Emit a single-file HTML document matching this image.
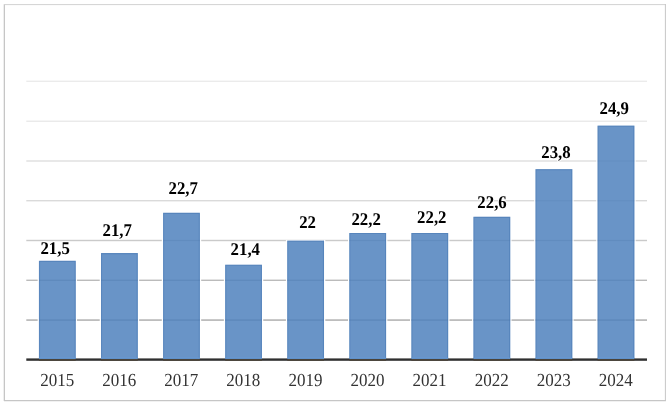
<!DOCTYPE html>
<html lang="ru"><head><meta charset="utf-8"><title>Chart</title>
<style>html,body{margin:0;padding:0;background:#fff;}svg{display:block;will-change:transform;}text{font-family:"Liberation Serif",serif;text-rendering:geometricPrecision;}</style></head><body>
<svg width="670" height="406" viewBox="0 0 670 406">
<rect x="0" y="0" width="670" height="406" fill="#fff"/>
<g stroke="#c6c6c6" fill="none">
<line x1="4.35" x2="4.35" y1="4.3" y2="401.0" stroke-width="1.3"/>
<line x1="4.0" x2="665.9" y1="4.6" y2="4.6" stroke-width="1" stroke="#d2d2d2"/>
<line x1="665.4" x2="665.4" y1="4.1" y2="401.0" stroke-width="1"/>
<line x1="4.0" x2="665.9" y1="400.55" y2="400.55" stroke-width="1.3"/>
</g>
<rect x="26.30" y="80" width="620.70" height="1" fill="#f7f7f7"/><rect x="26.30" y="81" width="620.70" height="1" fill="#ebebeb"/>
<rect x="26.30" y="120" width="620.70" height="1" fill="#f5f5f5"/><rect x="26.30" y="121" width="620.70" height="1" fill="#eaeaea"/>
<rect x="26.30" y="160" width="620.70" height="1" fill="#e8e8e8"/><rect x="26.30" y="161" width="620.70" height="1" fill="#e8e8e8"/>
<rect x="26.30" y="200" width="620.70" height="1" fill="#dadada"/><rect x="26.30" y="201" width="620.70" height="1" fill="#f0f0f0"/>
<rect x="26.30" y="239" width="620.70" height="1" fill="#f4f4f4"/><rect x="26.30" y="240" width="620.70" height="1" fill="#cacaca"/><rect x="26.30" y="241" width="620.70" height="1" fill="#f4f4f4"/>
<rect x="26.30" y="279" width="620.70" height="1" fill="#e3e3e3"/><rect x="26.30" y="280" width="620.70" height="1" fill="#bbbbbb"/>
<rect x="26.30" y="319" width="620.70" height="1" fill="#c9c9c9"/><rect x="26.30" y="320" width="620.70" height="1" fill="#bdbdbd"/>
<rect x="37.64" y="260.25" width="39.40" height="98.95" fill="#fff"/>
<rect x="38.94" y="279" width="36.80" height="1" fill="#e3e3e3"/><rect x="38.94" y="280" width="36.80" height="1" fill="#bbbbbb"/>
<rect x="38.94" y="319" width="36.80" height="1" fill="#c9c9c9"/><rect x="38.94" y="320" width="36.80" height="1" fill="#bdbdbd"/>
<rect x="38.94" y="260.85" width="36.80" height="98.95" fill="#4f81bd" fill-opacity="0.85"/>
<path d="M39.49 359.80V260.85" fill="none" stroke="#3f6fae" stroke-opacity="0.34" stroke-width="1.1"/>
<path d="M40.04 261.40H74.64" fill="none" stroke="#3f6fae" stroke-opacity="0.42" stroke-width="1.1"/>
<path d="M75.19 260.85V359.80" fill="none" stroke="#3f6fae" stroke-opacity="0.42" stroke-width="1.1"/>
<rect x="99.71" y="252.46" width="39.40" height="106.74" fill="#fff"/>
<rect x="101.01" y="279" width="36.80" height="1" fill="#e3e3e3"/><rect x="101.01" y="280" width="36.80" height="1" fill="#bbbbbb"/>
<rect x="101.01" y="319" width="36.80" height="1" fill="#c9c9c9"/><rect x="101.01" y="320" width="36.80" height="1" fill="#bdbdbd"/>
<rect x="101.01" y="253.06" width="36.80" height="106.74" fill="#4f81bd" fill-opacity="0.85"/>
<path d="M101.56 359.80V253.06" fill="none" stroke="#3f6fae" stroke-opacity="0.34" stroke-width="1.1"/>
<path d="M102.11 253.61H136.71" fill="none" stroke="#3f6fae" stroke-opacity="0.42" stroke-width="1.1"/>
<path d="M137.25 253.06V359.80" fill="none" stroke="#3f6fae" stroke-opacity="0.42" stroke-width="1.1"/>
<rect x="161.78" y="212.24" width="39.40" height="146.96" fill="#fff"/>
<rect x="163.08" y="239" width="36.80" height="1" fill="#f4f4f4"/><rect x="163.08" y="240" width="36.80" height="1" fill="#cacaca"/><rect x="163.08" y="241" width="36.80" height="1" fill="#f4f4f4"/>
<rect x="163.08" y="279" width="36.80" height="1" fill="#e3e3e3"/><rect x="163.08" y="280" width="36.80" height="1" fill="#bbbbbb"/>
<rect x="163.08" y="319" width="36.80" height="1" fill="#c9c9c9"/><rect x="163.08" y="320" width="36.80" height="1" fill="#bdbdbd"/>
<rect x="163.08" y="212.84" width="36.80" height="146.96" fill="#4f81bd" fill-opacity="0.85"/>
<path d="M163.63 359.80V212.84" fill="none" stroke="#3f6fae" stroke-opacity="0.34" stroke-width="1.1"/>
<path d="M164.18 213.39H198.78" fill="none" stroke="#3f6fae" stroke-opacity="0.42" stroke-width="1.1"/>
<path d="M199.32 212.84V359.80" fill="none" stroke="#3f6fae" stroke-opacity="0.42" stroke-width="1.1"/>
<rect x="223.85" y="264.17" width="39.40" height="95.03" fill="#fff"/>
<rect x="225.15" y="279" width="36.80" height="1" fill="#e3e3e3"/><rect x="225.15" y="280" width="36.80" height="1" fill="#bbbbbb"/>
<rect x="225.15" y="319" width="36.80" height="1" fill="#c9c9c9"/><rect x="225.15" y="320" width="36.80" height="1" fill="#bdbdbd"/>
<rect x="225.15" y="264.77" width="36.80" height="95.03" fill="#4f81bd" fill-opacity="0.85"/>
<path d="M225.70 359.80V264.77" fill="none" stroke="#3f6fae" stroke-opacity="0.34" stroke-width="1.1"/>
<path d="M226.25 265.32H260.85" fill="none" stroke="#3f6fae" stroke-opacity="0.42" stroke-width="1.1"/>
<path d="M261.40 264.77V359.80" fill="none" stroke="#3f6fae" stroke-opacity="0.42" stroke-width="1.1"/>
<rect x="285.92" y="240.04" width="39.40" height="119.16" fill="#fff"/>
<rect x="287.22" y="279" width="36.80" height="1" fill="#e3e3e3"/><rect x="287.22" y="280" width="36.80" height="1" fill="#bbbbbb"/>
<rect x="287.22" y="319" width="36.80" height="1" fill="#c9c9c9"/><rect x="287.22" y="320" width="36.80" height="1" fill="#bdbdbd"/>
<rect x="287.22" y="240.64" width="36.80" height="119.16" fill="#4f81bd" fill-opacity="0.85"/>
<path d="M287.77 359.80V240.64" fill="none" stroke="#3f6fae" stroke-opacity="0.34" stroke-width="1.1"/>
<path d="M288.32 241.19H322.92" fill="none" stroke="#3f6fae" stroke-opacity="0.42" stroke-width="1.1"/>
<path d="M323.47 240.64V359.80" fill="none" stroke="#3f6fae" stroke-opacity="0.42" stroke-width="1.1"/>
<rect x="347.99" y="232.40" width="39.40" height="126.80" fill="#fff"/>
<rect x="349.29" y="239" width="36.80" height="1" fill="#f4f4f4"/><rect x="349.29" y="240" width="36.80" height="1" fill="#cacaca"/><rect x="349.29" y="241" width="36.80" height="1" fill="#f4f4f4"/>
<rect x="349.29" y="279" width="36.80" height="1" fill="#e3e3e3"/><rect x="349.29" y="280" width="36.80" height="1" fill="#bbbbbb"/>
<rect x="349.29" y="319" width="36.80" height="1" fill="#c9c9c9"/><rect x="349.29" y="320" width="36.80" height="1" fill="#bdbdbd"/>
<rect x="349.29" y="233.00" width="36.80" height="126.80" fill="#4f81bd" fill-opacity="0.85"/>
<path d="M349.84 359.80V233.00" fill="none" stroke="#3f6fae" stroke-opacity="0.34" stroke-width="1.1"/>
<path d="M350.39 233.55H384.99" fill="none" stroke="#3f6fae" stroke-opacity="0.42" stroke-width="1.1"/>
<path d="M385.54 233.00V359.80" fill="none" stroke="#3f6fae" stroke-opacity="0.42" stroke-width="1.1"/>
<rect x="410.06" y="232.40" width="39.40" height="126.80" fill="#fff"/>
<rect x="411.36" y="239" width="36.80" height="1" fill="#f4f4f4"/><rect x="411.36" y="240" width="36.80" height="1" fill="#cacaca"/><rect x="411.36" y="241" width="36.80" height="1" fill="#f4f4f4"/>
<rect x="411.36" y="279" width="36.80" height="1" fill="#e3e3e3"/><rect x="411.36" y="280" width="36.80" height="1" fill="#bbbbbb"/>
<rect x="411.36" y="319" width="36.80" height="1" fill="#c9c9c9"/><rect x="411.36" y="320" width="36.80" height="1" fill="#bdbdbd"/>
<rect x="411.36" y="233.00" width="36.80" height="126.80" fill="#4f81bd" fill-opacity="0.85"/>
<path d="M411.91 359.80V233.00" fill="none" stroke="#3f6fae" stroke-opacity="0.34" stroke-width="1.1"/>
<path d="M412.46 233.55H447.06" fill="none" stroke="#3f6fae" stroke-opacity="0.42" stroke-width="1.1"/>
<path d="M447.61 233.00V359.80" fill="none" stroke="#3f6fae" stroke-opacity="0.42" stroke-width="1.1"/>
<rect x="472.13" y="216.21" width="39.40" height="142.99" fill="#fff"/>
<rect x="473.43" y="239" width="36.80" height="1" fill="#f4f4f4"/><rect x="473.43" y="240" width="36.80" height="1" fill="#cacaca"/><rect x="473.43" y="241" width="36.80" height="1" fill="#f4f4f4"/>
<rect x="473.43" y="279" width="36.80" height="1" fill="#e3e3e3"/><rect x="473.43" y="280" width="36.80" height="1" fill="#bbbbbb"/>
<rect x="473.43" y="319" width="36.80" height="1" fill="#c9c9c9"/><rect x="473.43" y="320" width="36.80" height="1" fill="#bdbdbd"/>
<rect x="473.43" y="216.81" width="36.80" height="142.99" fill="#4f81bd" fill-opacity="0.85"/>
<path d="M473.98 359.80V216.81" fill="none" stroke="#3f6fae" stroke-opacity="0.34" stroke-width="1.1"/>
<path d="M474.53 217.36H509.13" fill="none" stroke="#3f6fae" stroke-opacity="0.42" stroke-width="1.1"/>
<path d="M509.68 216.81V359.80" fill="none" stroke="#3f6fae" stroke-opacity="0.42" stroke-width="1.1"/>
<rect x="534.20" y="168.54" width="39.40" height="190.66" fill="#fff"/>
<rect x="535.50" y="200" width="36.80" height="1" fill="#dadada"/><rect x="535.50" y="201" width="36.80" height="1" fill="#f0f0f0"/>
<rect x="535.50" y="239" width="36.80" height="1" fill="#f4f4f4"/><rect x="535.50" y="240" width="36.80" height="1" fill="#cacaca"/><rect x="535.50" y="241" width="36.80" height="1" fill="#f4f4f4"/>
<rect x="535.50" y="279" width="36.80" height="1" fill="#e3e3e3"/><rect x="535.50" y="280" width="36.80" height="1" fill="#bbbbbb"/>
<rect x="535.50" y="319" width="36.80" height="1" fill="#c9c9c9"/><rect x="535.50" y="320" width="36.80" height="1" fill="#bdbdbd"/>
<rect x="535.50" y="169.14" width="36.80" height="190.66" fill="#4f81bd" fill-opacity="0.85"/>
<path d="M536.04 359.80V169.14" fill="none" stroke="#3f6fae" stroke-opacity="0.34" stroke-width="1.1"/>
<path d="M536.60 169.69H571.19" fill="none" stroke="#3f6fae" stroke-opacity="0.42" stroke-width="1.1"/>
<path d="M571.75 169.14V359.80" fill="none" stroke="#3f6fae" stroke-opacity="0.42" stroke-width="1.1"/>
<rect x="596.27" y="125.05" width="39.40" height="234.15" fill="#fff"/>
<rect x="597.57" y="160" width="36.80" height="1" fill="#e8e8e8"/><rect x="597.57" y="161" width="36.80" height="1" fill="#e8e8e8"/>
<rect x="597.57" y="200" width="36.80" height="1" fill="#dadada"/><rect x="597.57" y="201" width="36.80" height="1" fill="#f0f0f0"/>
<rect x="597.57" y="239" width="36.80" height="1" fill="#f4f4f4"/><rect x="597.57" y="240" width="36.80" height="1" fill="#cacaca"/><rect x="597.57" y="241" width="36.80" height="1" fill="#f4f4f4"/>
<rect x="597.57" y="279" width="36.80" height="1" fill="#e3e3e3"/><rect x="597.57" y="280" width="36.80" height="1" fill="#bbbbbb"/>
<rect x="597.57" y="319" width="36.80" height="1" fill="#c9c9c9"/><rect x="597.57" y="320" width="36.80" height="1" fill="#bdbdbd"/>
<rect x="597.57" y="125.65" width="36.80" height="234.15" fill="#4f81bd" fill-opacity="0.85"/>
<path d="M598.12 359.80V125.65" fill="none" stroke="#3f6fae" stroke-opacity="0.34" stroke-width="1.1"/>
<path d="M598.67 126.20H633.26" fill="none" stroke="#3f6fae" stroke-opacity="0.42" stroke-width="1.1"/>
<path d="M633.82 125.65V359.80" fill="none" stroke="#3f6fae" stroke-opacity="0.42" stroke-width="1.1"/>
<text transform="translate(40.40 254.30) scale(1 1.065)" font-size="16.8" font-weight="bold" fill="#000" stroke="#fff" stroke-width="2" paint-order="stroke" stroke-linejoin="round">21,5</text>
<text transform="translate(57.14 385.5) scale(1 1.08)" text-anchor="middle" font-size="17" fill="#333">2015</text>
<text transform="translate(102.50 236.00) scale(1 1.065)" font-size="16.8" font-weight="bold" fill="#000" stroke="#fff" stroke-width="2" paint-order="stroke" stroke-linejoin="round">21,7</text>
<text transform="translate(119.21 385.5) scale(1 1.08)" text-anchor="middle" font-size="17" fill="#333">2016</text>
<text transform="translate(168.55 194.40) scale(1 1.065)" font-size="16.8" font-weight="bold" fill="#000" stroke="#fff" stroke-width="2" paint-order="stroke" stroke-linejoin="round">22,7</text>
<text transform="translate(181.28 385.5) scale(1 1.08)" text-anchor="middle" font-size="17" fill="#333">2017</text>
<text transform="translate(230.60 255.20) scale(1 1.065)" font-size="16.8" font-weight="bold" fill="#000" stroke="#fff" stroke-width="2" paint-order="stroke" stroke-linejoin="round">21,4</text>
<text transform="translate(243.35 385.5) scale(1 1.08)" text-anchor="middle" font-size="17" fill="#333">2018</text>
<text transform="translate(299.20 227.85) scale(1 1.065)" font-size="16.8" font-weight="bold" fill="#000" stroke="#fff" stroke-width="2" paint-order="stroke" stroke-linejoin="round">22</text>
<text transform="translate(305.42 385.5) scale(1 1.08)" text-anchor="middle" font-size="17" fill="#333">2019</text>
<text transform="translate(351.40 224.80) scale(1 1.065)" font-size="16.8" font-weight="bold" fill="#000" stroke="#fff" stroke-width="2" paint-order="stroke" stroke-linejoin="round">22,2</text>
<text transform="translate(367.49 385.5) scale(1 1.08)" text-anchor="middle" font-size="17" fill="#333">2020</text>
<text transform="translate(417.10 223.40) scale(1 1.065)" font-size="16.8" font-weight="bold" fill="#000" stroke="#fff" stroke-width="2" paint-order="stroke" stroke-linejoin="round">22,2</text>
<text transform="translate(429.56 385.5) scale(1 1.08)" text-anchor="middle" font-size="17" fill="#333">2021</text>
<text transform="translate(477.35 207.70) scale(1 1.065)" font-size="16.8" font-weight="bold" fill="#000" stroke="#fff" stroke-width="2" paint-order="stroke" stroke-linejoin="round">22,6</text>
<text transform="translate(491.63 385.5) scale(1 1.08)" text-anchor="middle" font-size="17" fill="#333">2022</text>
<text transform="translate(541.30 157.80) scale(1 1.065)" font-size="16.8" font-weight="bold" fill="#000" stroke="#fff" stroke-width="2" paint-order="stroke" stroke-linejoin="round">23,8</text>
<text transform="translate(553.69 385.5) scale(1 1.08)" text-anchor="middle" font-size="17" fill="#333">2023</text>
<text transform="translate(599.50 113.90) scale(1 1.065)" font-size="16.8" font-weight="bold" fill="#000" stroke="#fff" stroke-width="2" paint-order="stroke" stroke-linejoin="round">24,9</text>
<text transform="translate(615.76 385.5) scale(1 1.08)" text-anchor="middle" font-size="17" fill="#333">2024</text>
<rect x="26.3" y="358.4" width="620.70" height="2.4" fill="#303030"/>
<rect x="38.94" y="357.7" width="36.80" height="1.3" fill="#669fe2"/>
<rect x="38.94" y="358.85" width="36.80" height="1.95" fill="#4a4339"/>
<rect x="101.01" y="357.7" width="36.80" height="1.3" fill="#669fe2"/>
<rect x="101.01" y="358.85" width="36.80" height="1.95" fill="#4a4339"/>
<rect x="163.08" y="357.7" width="36.80" height="1.3" fill="#669fe2"/>
<rect x="163.08" y="358.85" width="36.80" height="1.95" fill="#4a4339"/>
<rect x="225.15" y="357.7" width="36.80" height="1.3" fill="#669fe2"/>
<rect x="225.15" y="358.85" width="36.80" height="1.95" fill="#4a4339"/>
<rect x="287.22" y="357.7" width="36.80" height="1.3" fill="#669fe2"/>
<rect x="287.22" y="358.85" width="36.80" height="1.95" fill="#4a4339"/>
<rect x="349.29" y="357.7" width="36.80" height="1.3" fill="#669fe2"/>
<rect x="349.29" y="358.85" width="36.80" height="1.95" fill="#4a4339"/>
<rect x="411.36" y="357.7" width="36.80" height="1.3" fill="#669fe2"/>
<rect x="411.36" y="358.85" width="36.80" height="1.95" fill="#4a4339"/>
<rect x="473.43" y="357.7" width="36.80" height="1.3" fill="#669fe2"/>
<rect x="473.43" y="358.85" width="36.80" height="1.95" fill="#4a4339"/>
<rect x="535.50" y="357.7" width="36.80" height="1.3" fill="#669fe2"/>
<rect x="535.50" y="358.85" width="36.80" height="1.95" fill="#4a4339"/>
<rect x="597.57" y="357.7" width="36.80" height="1.3" fill="#669fe2"/>
<rect x="597.57" y="358.85" width="36.80" height="1.95" fill="#4a4339"/>
</svg></body></html>
